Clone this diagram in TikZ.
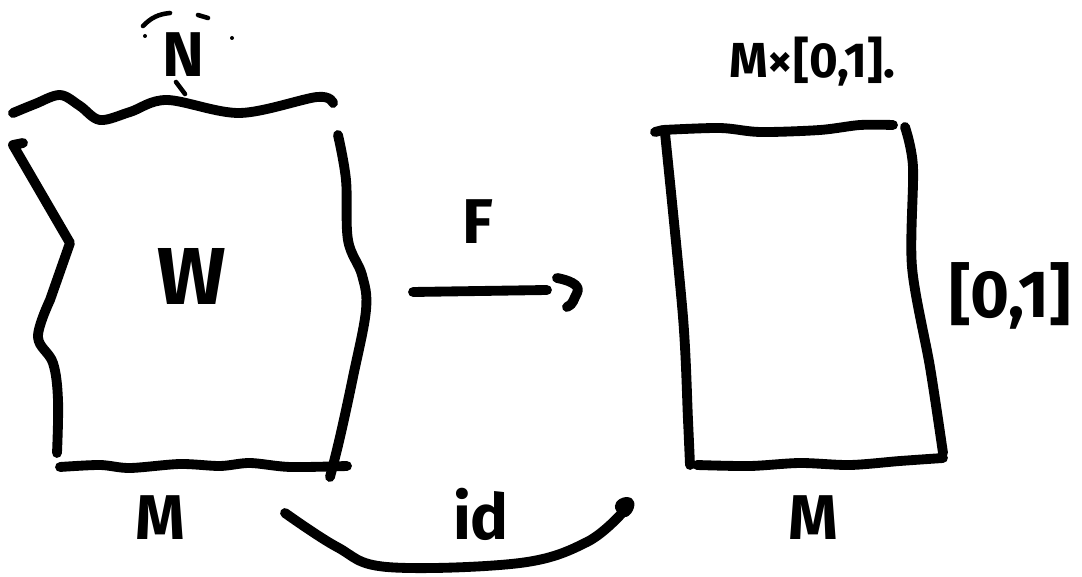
\documentclass[tikz,border=0pt]{standalone}
\usepackage{fontspec}
\setmainfont{Fira Sans}
\begin{document}
\begin{tikzpicture}[x=0.02cm,y=-0.02cm,
  stroke/.style={line width=5.6pt,line cap=round,line join=round},
  thin stroke/.style={line width=2.6pt,line cap=round},
  hand/.style={font=\fontsize{36}{38}\selectfont\bfseries,inner sep=0pt},
  big hand/.style={font=\fontsize{46}{48}\selectfont\bfseries,inner sep=0pt},
  mid hand/.style={font=\fontsize{38}{40}\selectfont\bfseries,inner sep=0pt},
  small hand/.style={font=\fontsize{28}{30}\selectfont\bfseries,inner sep=0pt}]
\useasboundingbox (0,0) rectangle (1082,577);
% left region W
\draw[stroke] plot[smooth,tension=0.55] coordinates {(13,113) (35,104) (60,95) (80,106) (100,120) (130,112) (167,100) (240,113) (317,97) (333,103)};
\draw[stroke] (23,143) -- (13,145) -- (70,243) -- (50,300) plot[smooth,tension=0.6] coordinates {(50,300) (38,337) (53,363) (58,400) (57,453)};
\draw[stroke] plot[smooth,tension=0.5] coordinates {(60,467) (100,465) (130,468) (180,464) (220,466) (250,463) (290,467) (347,466)};
\draw[stroke] plot[smooth,tension=0.6] coordinates {(338,135) (346,180) (348,240) (362,275) (366,310) (353,377) (340,437) (330,477)};
% right rectangle
\draw[stroke] (655,132) -- (663,130) plot[smooth,tension=0.5] coordinates {(663,130) (720,128) (760,132) (820,130) (860,125) (893,125)};
\draw[stroke] plot[smooth,tension=0.5] coordinates {(665,133) (683,317) (688,420) (690,465)};
\draw[stroke] plot[smooth,tension=0.5] coordinates {(697,465) (750,466) (800,463) (850,465) (900,461) (943,458)};
\draw[stroke] plot[smooth,tension=0.5] coordinates {(905,127) (913,167) (912,267) (930,367) (943,453)};
% labels
\node[big hand] (W) at (192,276) {W};
\node[hand] (N) at (183,55) {N};
\draw[thin stroke] (143,26) to[bend left=20] (170,13);
\draw[thin stroke] (198,15) -- (208,18);
\fill (145,36) circle (2);
\fill (232,38) circle (2);
\draw[thin stroke] (176,82) -- (185,94);
\node[hand] (M1) at (160,518) {M};
\node[hand] (M2) at (813,518) {M};
\node[small hand] (MI) at (812,62) {M×[0,1].};
\node[mid hand] (I) at (1010,296) {[0,1]};
% F arrow
\node[hand] (F) at (478,222) {F};
\coordinate (fa) at (413,292);
\coordinate (fb) at (547,290);
\draw[stroke] (fa) -- (fb);
\draw[stroke] (557,278) to[out=-10,in=60] (577,293) to[out=-120,in=20] (567,307);
% id curve
\node[hand] (id) at (481,514) {id};
\coordinate (ia) at (285,513);
\coordinate (ib) at (623,512);
\draw[stroke] plot[smooth,tension=0.6] coordinates {(ia) (337,547) (387,567) (520,563) (587,542) (ib)};
\draw[stroke] (ib) to[out=-40,in=-10] (628,502) to[out=170,in=120] (620,508);
\end{tikzpicture}
\end{document}
